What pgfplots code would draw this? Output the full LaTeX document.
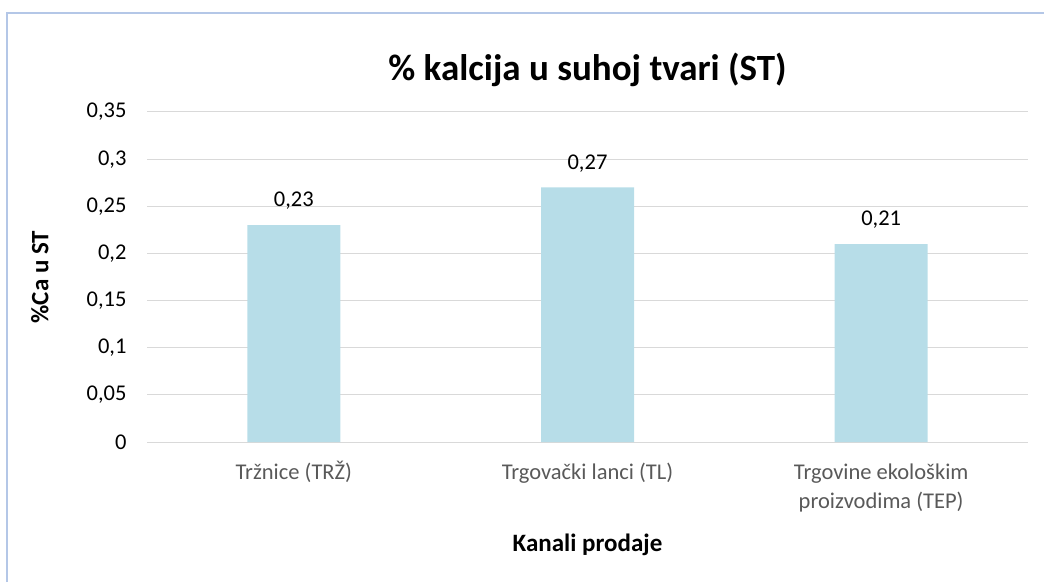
\documentclass[border=0pt]{standalone}
\usepackage{pgfplots}
\pgfplotsset{compat=1.18}
\usepackage{fontspec}
\setmainfont{Carlito}
\definecolor{barc}{HTML}{B7DDE8}
\definecolor{gridc}{HTML}{D9D9D9}
\definecolor{tickc}{HTML}{595959}
\definecolor{framec}{HTML}{B4C7E7}
\begin{document}
\begin{tikzpicture}[x=1pt,y=1pt]
\path[use as bounding box] (0,0) rectangle (1044,582);
\draw[framec, line width=1.5pt] (7,0) -- (7,569) -- (1044,569);
\begin{axis}[
  at={(147pt,140pt)}, anchor=south west,
  width=881pt, height=330pt, scale only axis,
  xmin=-0.5, xmax=2.5, ymin=0, ymax=0.35,
  ybar, bar width=93pt,
  ytick={0,0.05,0.1,0.15,0.2,0.25,0.3,0.35},
  xtick={0,1,2},
  xticklabels={Tržnice (TRŽ), \vphantom{Ž}Trgovački lanci (TL), {\vphantom{Ž}Trgovine ekološkim\\proizvodima (TEP)}},
  /pgf/number format/assume math mode=true,
  /pgf/number format/use comma,
  /pgf/number format/fixed,
  /pgf/number format/precision=2,
  ymajorgrids, grid style={gridc, line width=1pt},
  axis x line*=bottom, axis y line*=left,
  x axis line style={gridc, line width=1pt, -},
  y axis line style={draw=none},
  major tick length=0pt,
  tick style={draw=none},
  yticklabel style={font=\fontsize{22.5}{26}\selectfont, text=black, xshift=-17pt},
  xticklabel style={font=\fontsize{22.5}{29}\selectfont, text=tickc, align=center, anchor=north, yshift=-16pt},
  ylabel={\%Ca u ST},
  xlabel={Kanali prodaje},
  title={\% kalcija u suhoj tvari (ST)},
  every axis y label/.style={at={(axis description cs:-0.1215,0.5)}, rotate=90, anchor=center, font=\fontsize{25}{28}\selectfont\bfseries},
  every axis x label/.style={at={(axis description cs:0.5,-0.312)}, anchor=center, font=\fontsize{25}{28}\selectfont\bfseries},
  every axis title/.style={at={(axis description cs:0.5,1.127)}, anchor=center, font=\fontsize{37}{42}\selectfont\bfseries},
  nodes near coords,
  every node near coord/.append style={font=\fontsize{22.5}{26}\selectfont, text=black, yshift=12pt},
]
\addplot[fill=barc, draw=none] coordinates {(0,0.23) (1,0.27) (2,0.21)};
\end{axis}
\end{tikzpicture}
\end{document}
